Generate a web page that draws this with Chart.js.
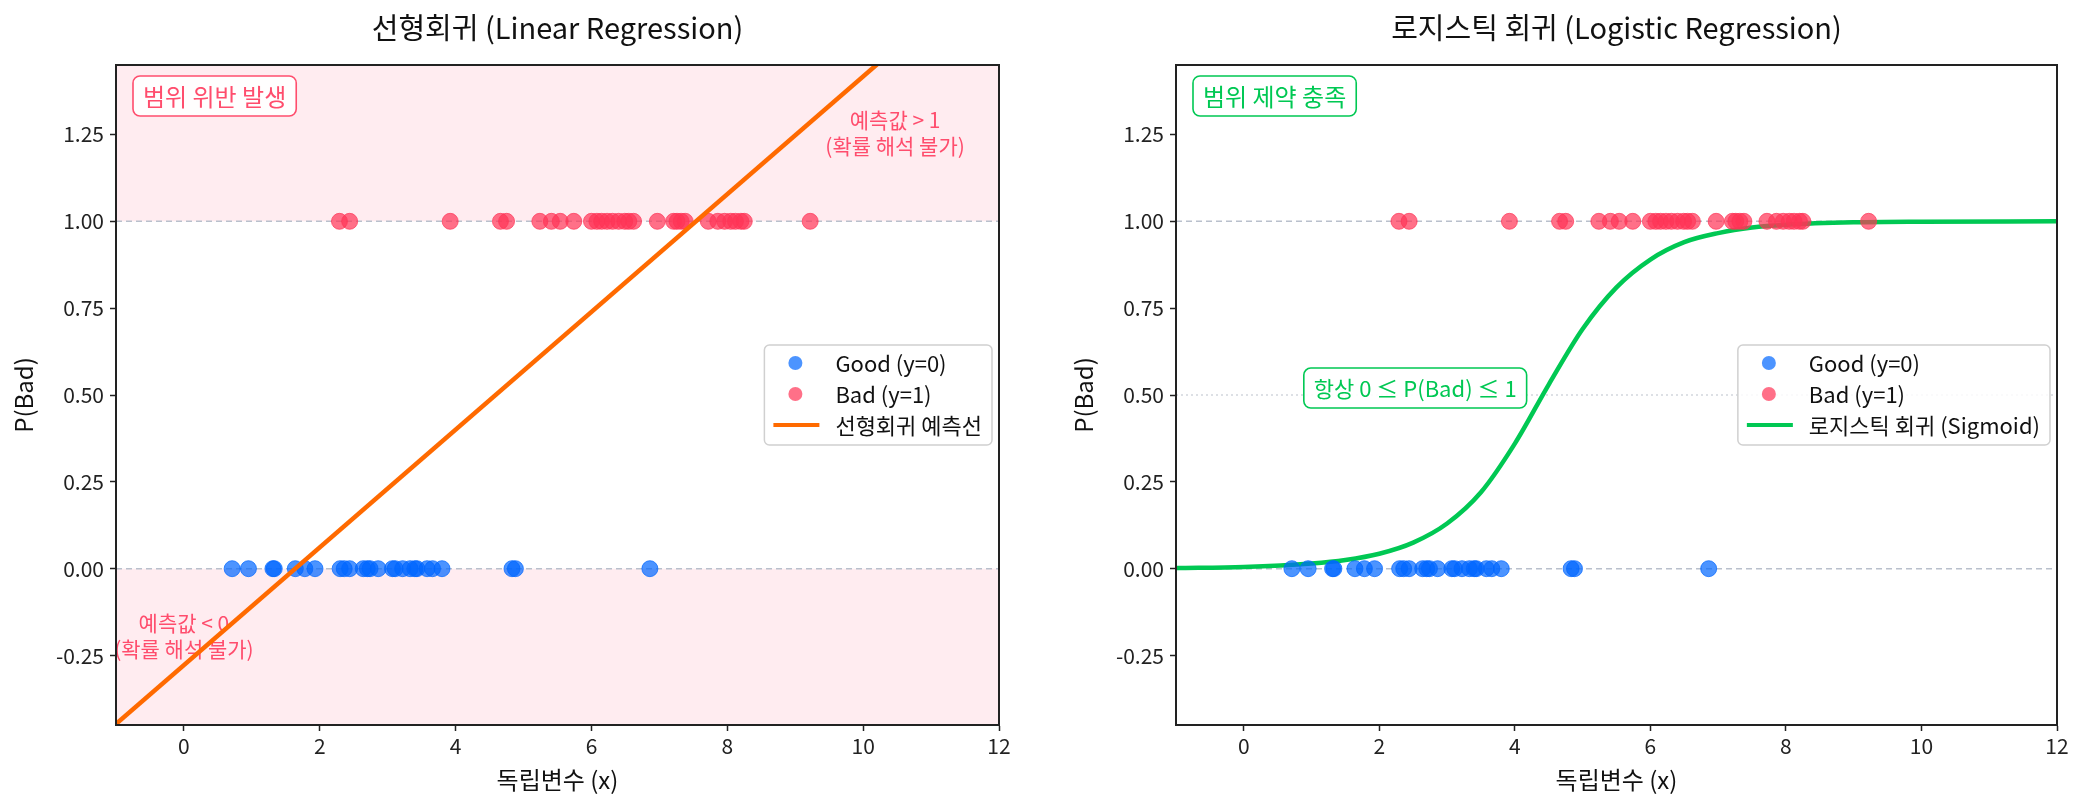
<!DOCTYPE html>
<html>
<head>
<meta charset="utf-8">
<script src="https://cdn.jsdelivr.net/npm/chart.js@4.4.0/dist/chart.umd.min.js"></script>
<style>
  body { margin: 0; background: #fff; width: 2085px; height: 808px; position: relative; overflow: hidden; }
  canvas { position: absolute; top: 0; }
  #linChart { left: 0; }
  #logChart { left: 1060px; }
</style>
</head>
<body>
<canvas id="linChart" width="1040" height="808"></canvas>
<canvas id="logChart" width="1025" height="808"></canvas>
<script>
// data
const xTicks = [0, 2, 4, 6, 8, 10, 12];
const yTicks = [-0.25, 0, 0.25, 0.5, 0.75, 1, 1.25];

const goodX = [0.71, 0.95, 1.31, 1.33, 1.64, 1.78, 1.93, 2.30, 2.36, 2.44, 2.64, 2.70, 2.74, 2.86,
  3.07, 3.11, 3.22, 3.33, 3.40, 3.43, 3.58, 3.66, 3.80, 4.83, 4.88, 6.86];
const badX = [2.29, 2.44, 3.92, 4.66, 4.75, 5.24, 5.41, 5.54, 5.74, 6.00, 6.08, 6.15, 6.23, 6.31,
  6.40, 6.49, 6.55, 6.62, 6.97, 7.21, 7.26, 7.32, 7.38, 7.72, 7.86, 7.96, 8.05, 8.12, 8.20, 8.25, 9.22];

// fitted lines as seen on the chart
const linX = [-1, 12];
const linY = [-0.447, 1.756];
const sigX = [-1, 0, 1, 1.5, 2, 2.5, 3, 3.5, 4, 4.5, 5, 5.5, 6, 6.5, 7, 7.5, 8, 9, 10, 12];
const sigY = [0.002, 0.005, 0.015, 0.025, 0.043, 0.075, 0.13, 0.22, 0.36, 0.53, 0.69, 0.81,
  0.89, 0.94, 0.966, 0.982, 0.99, 0.997, 0.999, 1.0];

const FONT = "'Noto Sans CJK KR', 'Noto Sans', sans-serif";
const PINK = '#ff4d6d';
const GREEN = '#00c853';

function pts(xs, ys) {
  return xs.map((x, i) => ({ x: x, y: Array.isArray(ys) ? ys[i] : ys }));
}

function roundRect(ctx, x, y, w, h, r) {
  ctx.beginPath();
  ctx.moveTo(x + r, y);
  ctx.arcTo(x + w, y, x + w, y + h, r);
  ctx.arcTo(x + w, y + h, x, y + h, r);
  ctx.arcTo(x, y + h, x, y, r);
  ctx.arcTo(x, y, x + w, y, r);
  ctx.closePath();
}

function drawBox(ctx, text, cx, cy, color, size) {
  ctx.font = size + 'px ' + FONT;
  const w = ctx.measureText(text).width + 20;
  const h = 40;
  roundRect(ctx, cx - w / 2, cy - h / 2, w, h, 7);
  ctx.fillStyle = 'rgba(255,255,255,0.92)';
  ctx.fill();
  ctx.lineWidth = 1.6;
  ctx.strokeStyle = color;
  ctx.stroke();
  ctx.fillStyle = color;
  ctx.textAlign = 'center';
  ctx.textBaseline = 'middle';
  ctx.fillText(text, cx, cy + 1);
}

// decorations that Chart.js has no option for: shading, reference lines, notes, frame, legend, title
function decor(extra) {
  return {
    id: 'decor',
    beforeDatasetsDraw(chart) {
      const { ctx, chartArea: a, scales: { x, y } } = chart;
      ctx.save();
      ctx.beginPath();
      ctx.rect(a.left, a.top, a.width, a.height);
      ctx.clip();
      if (extra.shade) {
        ctx.fillStyle = '#ffecf0';
        const y1 = y.getPixelForValue(1), y0 = y.getPixelForValue(0);
        ctx.fillRect(a.left, a.top, a.width, y1 - a.top);
        ctx.fillRect(a.left, y0, a.width, a.bottom - y0);
      }
      ctx.lineWidth = 1.5;
      ctx.strokeStyle = '#b9c0cc';
      ctx.setLineDash([6, 4]);
      [0, 1].forEach(v => {
        const py = y.getPixelForValue(v);
        ctx.beginPath(); ctx.moveTo(a.left, py); ctx.lineTo(a.right, py); ctx.stroke();
      });
      if (extra.dotted) {
        ctx.strokeStyle = '#d2d6dd';
        ctx.setLineDash([2, 3]);
        const py = y.getPixelForValue(0.5);
        ctx.beginPath(); ctx.moveTo(a.left, py); ctx.lineTo(a.right, py); ctx.stroke();
      }
      ctx.restore();
      // notes are not clipped: the lower one runs past the left axis
      ctx.save();
      (extra.notes || []).forEach(n => {
        ctx.font = '21px ' + FONT;
        ctx.fillStyle = PINK;
        ctx.textAlign = 'center';
        ctx.textBaseline = 'middle';
        const cx = x.getPixelForValue(n.x), cy = y.getPixelForValue(n.y);
        n.lines.forEach((t, i) => ctx.fillText(t, cx, cy + (i - (n.lines.length - 1) / 2) * 26));
      });
      ctx.restore();
    },
    afterDatasetsDraw(chart) {
      const { ctx, chartArea: a, scales: { x, y } } = chart;
      ctx.save();
      ctx.font = '24px ' + FONT;
      const bw = ctx.measureText(extra.badge.text).width + 20;
      drawBox(ctx, extra.badge.text, a.left + 17 + bw / 2, a.top + 31, extra.badge.color, 24);
      if (extra.mid) {
        drawBox(ctx, extra.mid.text, x.getPixelForValue(extra.mid.x), y.getPixelForValue(extra.mid.y), GREEN, 22);
      }
      ctx.restore();
    },
    afterDraw(chart) {
      const { ctx, chartArea: a } = chart;
      ctx.save();
      // frame
      ctx.lineWidth = 2;
      ctx.strokeStyle = '#222';
      ctx.strokeRect(a.left, a.top, a.width, a.height);
      // title
      ctx.font = '29px ' + FONT;
      ctx.fillStyle = '#111';
      ctx.textAlign = 'center';
      ctx.textBaseline = 'middle';
      ctx.fillText(extra.title, (a.left + a.right) / 2, 28);
      // legend, "center right"
      const items = chart.data.datasets.map(d => ({
        label: d.label, line: d.pointRadius === 0, color: d.pointRadius === 0 ? d.borderColor : d.backgroundColor
      }));
      const order = extra.legendOrder.map(i => items[i]);
      ctx.font = '22px ' + FONT;
      const tw = Math.max(...order.map(it => ctx.measureText(it.label).width));
      const w = 71 + tw + 10, h = 100;
      const left = a.right - 7 - w, top = (a.top + a.bottom) / 2 - h / 2;
      roundRect(ctx, left, top, w, h, 5);
      ctx.fillStyle = 'rgba(255,255,255,0.85)';
      ctx.fill();
      ctx.lineWidth = 1.5;
      ctx.strokeStyle = '#d0d0d0';
      ctx.stroke();
      order.forEach((it, i) => {
        const cy = top + 18 + i * 31;
        if (it.line) {
          ctx.strokeStyle = it.color;
          ctx.lineWidth = 4;
          ctx.beginPath(); ctx.moveTo(left + 9, cy); ctx.lineTo(left + 55, cy); ctx.stroke();
        } else {
          ctx.fillStyle = it.color;
          ctx.beginPath(); ctx.arc(left + 31, cy, 7, 0, Math.PI * 2); ctx.fill();
        }
        ctx.fillStyle = '#111';
        ctx.textAlign = 'left';
        ctx.fillText(it.label, left + 71, cy + 1);
      });
      ctx.restore();
    }
  };
}

function axisOpts(pos, title) {
  return {
    type: 'linear',
    position: pos,
    grid: { drawOnChartArea: false, drawTicks: true, tickLength: 6, tickColor: '#222', tickWidth: 1.5 },
    border: { display: true, color: '#222', width: 2 },
    ticks: { color: '#222', font: { family: FONT, size: 21 } },
    title: { display: true, text: title, color: '#111', font: { family: FONT, size: 24 } }
  };
}

function makeChart(id, datasets, extra) {
  const xs = axisOpts('bottom', '독립변수 (x)');
  xs.min = -1; xs.max = 12;
  xs.ticks.padding = 2;
  xs.title.padding = { top: 2, bottom: 14 };
  xs.afterBuildTicks = s => { s.ticks = xTicks.map(v => ({ value: v })); };
  xs.afterFit = s => { s.height = 83; };

  const ys = axisOpts('left', 'P(Bad)');
  ys.min = -0.45; ys.max = 1.45;
  ys.ticks.padding = 6;
  ys.ticks.callback = v => v.toFixed(2);
  ys.title.padding = { top: 9, bottom: 4 };
  ys.afterBuildTicks = s => { s.ticks = yTicks.map(v => ({ value: v })); };
  ys.afterFit = s => { s.width = 116; };

  return new Chart(document.getElementById(id), {
    type: 'scatter',
    data: { datasets: datasets },
    options: {
      responsive: false,
      animation: false,
      devicePixelRatio: 1,
      layout: { padding: { top: 65, right: extra.padRight, left: 0, bottom: 0 } },
      plugins: { legend: { display: false }, tooltip: { enabled: false } },
      scales: { x: xs, y: ys }
    },
    plugins: [decor(extra)]
  });
}

const goodSet = {
  label: 'Good (y=0)', data: pts(goodX, 0),
  backgroundColor: 'rgba(0,102,255,0.7)', borderColor: 'rgba(0,102,255,0.7)',
  borderWidth: 1, pointRadius: 8
};
const badSet = {
  label: 'Bad (y=1)', data: pts(badX, 1),
  backgroundColor: 'rgba(255,51,85,0.7)', borderColor: 'rgba(255,51,85,0.7)',
  borderWidth: 1, pointRadius: 8
};

// left: line on top of points
makeChart('linChart', [
  { label: '선형회귀 예측선', data: pts(linX, linY), showLine: true, borderColor: '#ff6a00',
    borderWidth: 4.5, pointRadius: 0, clip: 0 },
  Object.assign({}, goodSet),
  Object.assign({}, badSet)
], {
  title: '선형회귀 (Linear Regression)',
  shade: true,
  padRight: 41,
  badge: { text: '범위 위반 발생', color: PINK },
  notes: [
    { x: 10.47, y: 1.255, lines: ['예측값 > 1', '(확률 해석 불가)'] },
    { x: 0, y: -0.195, lines: ['예측값 < 0', '(확률 해석 불가)'] }
  ],
  legendOrder: [1, 2, 0]
});

// right: points on top of the curve
makeChart('logChart', [
  Object.assign({}, goodSet),
  Object.assign({}, badSet),
  { label: '로지스틱 회귀 (Sigmoid)', data: pts(sigX, sigY), showLine: true, borderColor: GREEN,
    borderWidth: 4.5, pointRadius: 0, cubicInterpolationMode: 'monotone', clip: 0 }
], {
  title: '로지스틱 회귀 (Logistic Regression)',
  shade: false,
  dotted: true,
  padRight: 28,
  badge: { text: '범위 제약 충족', color: GREEN },
  mid: { text: '항상 0 ≤ P(Bad) ≤ 1', x: 2.53, y: 0.52 },
  legendOrder: [0, 1, 2]
});
</script>
</body>
</html>
